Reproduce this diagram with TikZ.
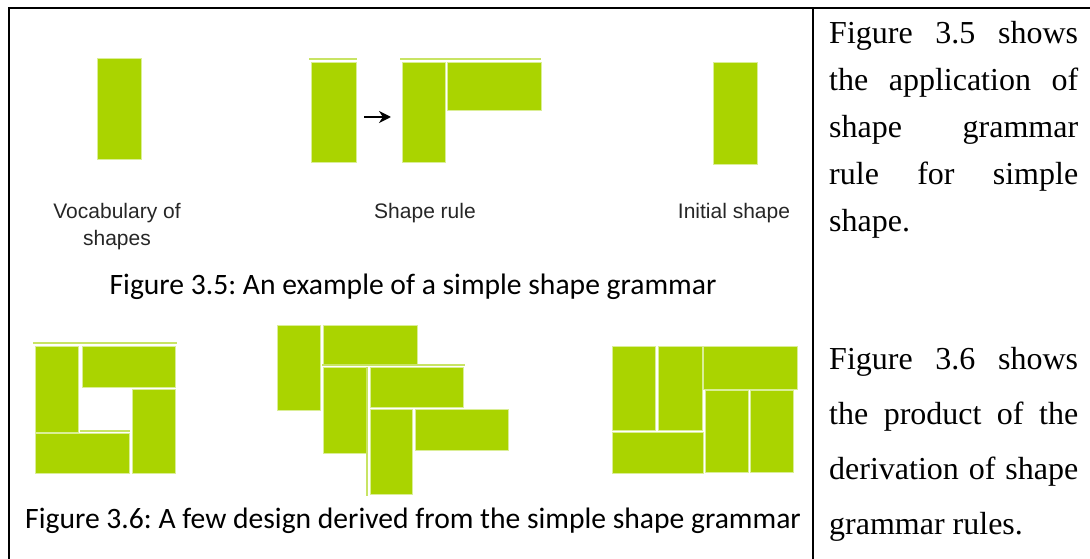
\documentclass[tikz,border=0pt]{standalone}
\usepackage{fontspec}
\setmainfont{Liberation Serif}
\newfontfamily\capfont{Carlito}
\newfontfamily\lblfont{Liberation Sans}
\usepackage{tikz}
\usetikzlibrary{arrows.meta}
\usetikzlibrary{positioning}
\usetikzlibrary{calc}
\definecolor{leaf}{RGB}{170,212,0}
\definecolor{leafedge}{RGB}{218,238,150}
\definecolor{leafseam}{RGB}{200,228,100}
\tikzset{
tile/.style = {fill=leaf, draw=leafedge, line width=0.8pt},
seam/.style = {draw=leafseam, line width=1.6pt},
lbl/.style = {font=\lblfont\fontsize{21}{27}\selectfont, text=black!85, inner sep=0pt},
figcap/.style = {font=\capfont\frenchspacing\fontsize{29.6}{36}\selectfont, inner sep=0pt},
para/.style = {font=\frenchspacing\fontsize{32}{#1}\selectfont, text width=249pt, align=justify, inner sep=0pt},
para/.default = 47
}
\newcommand{\blk}[2]{\draw[tile] (#1) rectangle (#2);}
\newcommand{\seamline}[2]{\draw[seam] (#1) -- (#2);}

\begin{document}
\begin{tikzpicture}[x=1pt,y=-1pt]
        \useasboundingbox (0,0) rectangle (1090,559);
        % frame
        \draw[line width=2pt] (9,559) -- (9,8) -- (1090,8);
        \draw[line width=2pt] (813,8) -- (813,559);
        % figure 3.5
        \blk{97,58}{141,159};
        \seamline{309,59}{357,59};
        \blk{311,62}{356,162};
        \coordinate (arrtail) at (364,117);
        \coordinate (arrhead) at (391,117);
        \draw[line width=2.2pt, -{Stealth[length=12pt, width=12pt]}] (arrtail) -- (arrhead);
        \seamline{400,59}{541,59};
        \blk{402,62}{445,162};
        \blk{447,62}{541,110};
        \blk{713,62}{757,164};
        \node[lbl, anchor=base] (vocab) at (117,218) {Vocabulary of};
        \node[lbl, anchor=base] (vocab2) at ([yshift=-27pt]vocab.base) {shapes};
        \node[lbl, anchor=base] (rule) at (425,218) {Shape rule};
        \node[lbl, anchor=base] (init) at (734,218) {Initial shape};
        \node[figcap, anchor=base] (cap5) at (413,294) {Figure 3.5: An example of a simple shape grammar};
        % figure 3.6
        \seamline{33,343}{177,343};
        \blk{35,346}{78,432};
        \blk{82,346}{175,387};
        \blk{132,389}{175,473};
        \seamline{80,431}{130,431};
        \blk{35,433}{129,473};
        \blk{277,325}{320,410};
        \blk{323,325}{417,364};
        \seamline{322,365}{465,365};
        \blk{323,367}{367,453};
        \blk{370,367}{463,407};
        \seamline{367,367}{367,496};
        \blk{370,409}{412,494};
        \blk{415,409}{508,450};
        \blk{612,346}{655,430};
        \blk{658,346}{702,430};
        \blk{703,346}{797,389};
        \blk{705,390}{748,472};
        \blk{750,390}{793,472};
        \blk{612,432}{703,473};
        \node[figcap, anchor=base] (cap6) at (413,528) {Figure 3.6: A few design derived from the simple shape grammar};
        % side text
        \node[para, anchor=base west] (txt5) at (829,44) {Figure 3.5 shows\linebreak the application of\linebreak shape grammar\linebreak rule for simple\linebreak shape.};
        \node[para=55, anchor=base west] (txt6) at (829,369) {Figure 3.6 shows\linebreak the product of the\linebreak derivation of shape\linebreak grammar rules.};
\end{tikzpicture}
\end{document}
